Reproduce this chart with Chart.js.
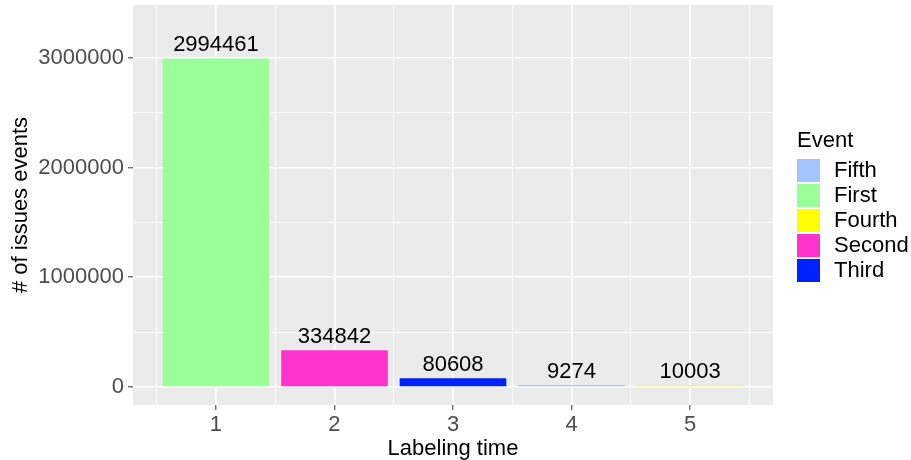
<!DOCTYPE html>
<html>
<head>
<meta charset="utf-8">
<script src="https://cdn.jsdelivr.net/npm/chart.js@4/dist/chart.umd.min.js"></script>
<style>
  body { margin: 0; background: #fff; }
</style>
</head>
<body>
<canvas id="myChart" width="911" height="460"></canvas>
<script>
// values
const labelingTimes = [1, 2, 3, 4, 5];
const issueEvents = [2994461, 334842, 80608, 9274, 10003];
const barEvents = ['First', 'Second', 'Third', 'Fifth', 'Fourth'];

const legendOrder = ['Fifth', 'First', 'Fourth', 'Second', 'Third'];
const eventColors = {
    Fifth: '#a4c4ff',
    First: '#9bff99',
    Fourth: '#ffff00',
    Second: '#ff33cc',
    Third: '#0022ff'
};

const yMajor = [0, 1000000, 2000000, 3000000];
const yTicks = [0, 500000, 1000000, 1500000, 2000000, 2500000, 3000000];
const xTicks = [0.5, 1, 1.5, 2, 2.5, 3, 3.5, 4, 4.5, 5, 5.5];

const FONT = '"Liberation Sans", Arial, sans-serif';

// grey panel like ggplot
const panelBg = {
    id: 'panelBg',
    beforeDraw(chart) {
        const a = chart.chartArea, c = chart.ctx;
        c.save();
        c.fillStyle = '#ebebeb';
        c.fillRect(a.left, a.top, a.right - a.left, a.bottom - a.top);
        c.restore();
    }
};

// numbers on top of bars
const barLabels = {
    id: 'barLabels',
    afterDatasetsDraw(chart) {
        const c = chart.ctx;
        const meta = chart.getDatasetMeta(0);
        c.save();
        c.font = '22px ' + FONT;
        c.fillStyle = '#000';
        c.textAlign = 'center';
        c.textBaseline = 'alphabetic';
        meta.data.forEach((bar, i) => {
            c.fillText(String(issueEvents[i]), bar.x, bar.y - 7);
        });
        c.restore();
    }
};

// legend drawn by hand, ggplot style
const sideLegend = {
    id: 'sideLegend',
    afterDraw(chart) {
        const c = chart.ctx;
        const x0 = chart.chartArea.right + 24;
        c.save();
        c.font = '22px ' + FONT;
        c.fillStyle = '#000';
        c.textAlign = 'left';
        c.textBaseline = 'alphabetic';
        c.fillText('Event', x0, 147);
        legendOrder.forEach((name, i) => {
            const y = 159 + i * 25;
            c.fillStyle = eventColors[name];
            c.fillRect(x0, y, 23, 23);
            c.fillStyle = '#000';
            c.textBaseline = 'middle';
            c.fillText(name, x0 + 37, y + 12);
        });
        c.restore();
    }
};

const ctx = document.getElementById('myChart').getContext('2d');

new Chart(ctx, {
    type: 'bar',
    data: {
        datasets: [{
            data: labelingTimes.map((t, i) => ({ x: t, y: issueEvents[i] })),
            backgroundColor: barEvents.map(e => eventColors[e]),
            borderWidth: 0,
            minBarLength: 2,
            // the ruler takes the half-step minor ticks, so 0.9 of a full step = 1.8 here
            barPercentage: 1.8,
            categoryPercentage: 1
        }]
    },
    options: {
        responsive: false,
        animation: false,
        layout: { padding: { top: 5, right: 138, left: 0, bottom: 0 } },
        plugins: {
            legend: { display: false },
            tooltip: { enabled: false }
        },
        scales: {
            x: {
                type: 'linear',
                min: 0.3,
                max: 5.7,
                offset: false,
                afterBuildTicks: s => { s.ticks = xTicks.map(v => ({ value: v })); },
                afterFit: s => { s.height = 55; s.paddingLeft = 0; s.paddingRight = 0; },
                border: { display: false },
                grid: {
                    offset: false,
                    color: '#fff',
                    lineWidth: c => (c.tick && Number.isInteger(c.tick.value)) ? 1.6 : 0.8,
                    tickColor: c => (c.tick && Number.isInteger(c.tick.value)) ? '#333' : 'rgba(0,0,0,0)',
                    tickLength: 5,
                    tickWidth: 1
                },
                ticks: {
                    autoSkip: false,
                    maxRotation: 0,
                    padding: 2,
                    color: '#4d4d4d',
                    font: { family: FONT, size: 22 },
                    callback: v => Number.isInteger(v) ? String(v) : ''
                },
                title: {
                    display: true,
                    text: 'Labeling time',
                    color: '#000',
                    font: { family: FONT, size: 22, lineHeight: 1 },
                    padding: { top: 0, bottom: 0 }
                }
            },
            y: {
                min: -164000,
                max: 3482000,
                afterBuildTicks: s => { s.ticks = yTicks.map(v => ({ value: v })); },
                afterFit: s => { s.width = 133; s.paddingTop = 0; s.paddingBottom = 0; },
                border: { display: false },
                grid: {
                    color: '#fff',
                    lineWidth: c => (c.tick && yMajor.includes(c.tick.value)) ? 1.6 : 0.8,
                    tickColor: c => (c.tick && yMajor.includes(c.tick.value)) ? '#333' : 'rgba(0,0,0,0)',
                    tickLength: 5,
                    tickWidth: 1
                },
                ticks: {
                    padding: 4,
                    color: '#4d4d4d',
                    font: { family: FONT, size: 22 },
                    callback: v => yMajor.includes(v) ? String(v) : ''
                },
                title: {
                    display: true,
                    text: '# of issues events',
                    color: '#000',
                    font: { family: FONT, size: 22, lineHeight: 1 },
                    padding: { top: 10, bottom: 0 }
                }
            }
        }
    },
    plugins: [panelBg, barLabels, sideLegend]
});
</script>
</body>
</html>
